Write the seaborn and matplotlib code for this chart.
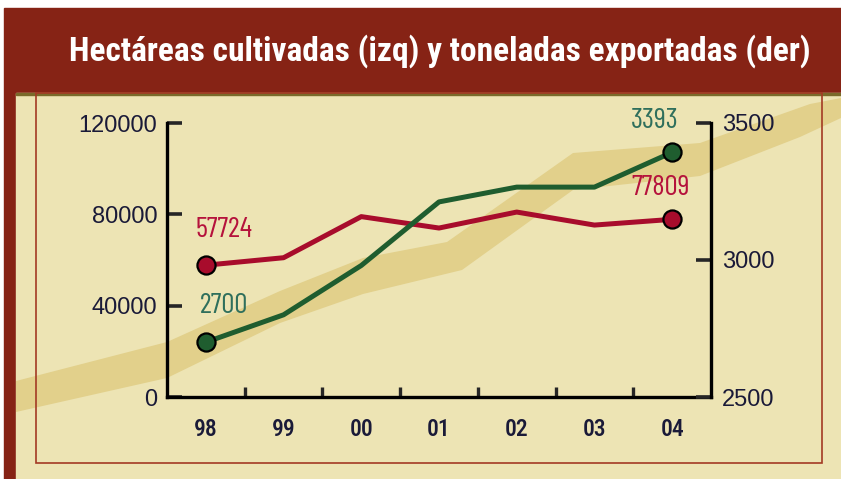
import numpy as np
import pandas as pd
import matplotlib
matplotlib.use("Agg")
import matplotlib.pyplot as plt
import seaborn as sns
from matplotlib.patches import Rectangle, Polygon

# ---------------------------------------------------------------------------
# Data
# ---------------------------------------------------------------------------
years = ["98", "99", "00", "01", "02", "03", "04"]
hectareas = [57724, 61000, 79000, 74000, 81000, 75300, 77809]   # left axis
toneladas = [2700, 2800, 2980, 3212, 3266, 3266, 3393]          # right axis

left_ticks = [0, 40000, 80000, 120000]
right_ticks = [2500, 3000, 3500]

title = "Hectáreas cultivadas (izq) y toneladas exportadas (der)"

RED = "#a80c2c"
GREEN = "#1f5d2f"
RED_TXT = "#b5123c"
GREEN_TXT = "#2f6f5c"
NAVY = "#1a1a38"
BAND = "#862315"
BEIGE = "#ede4b4"
STRIPE = "#e2d08b"

COND = ["Roboto Condensed", "DejaVu Sans"]
XCOND = ["Barlow Condensed", "Roboto Condensed", "DejaVu Sans"]

df = pd.DataFrame({"pos": np.arange(len(years)), "hect": hectareas, "ton": toneladas})

sns.set_theme(style="white")
plt.rcParams["font.family"] = ["Liberation Sans", "DejaVu Sans"]

W, H = 841, 479
fig = plt.figure(figsize=(W / 100, H / 100), dpi=100)
fig.patch.set_facecolor("white")


def px(x, y):
    """pixel coords (top-left origin) -> figure fraction"""
    return x / W, 1 - y / H


# ---------------------------------------------------------------------------
# Decorative frame
# ---------------------------------------------------------------------------
fig.patches.append(Rectangle(px(4, 479), (W - 4) / W, (479 - 8) / H,
                             transform=fig.transFigure, color=BAND, zorder=-5))
fig.patches.append(Rectangle(px(16, 479), (W - 16) / W, (479 - 93) / H,
                             transform=fig.transFigure, color=BEIGE, zorder=-4))
fig.patches.append(Rectangle(px(16, 94.5), (W - 16) / W, 1.5 / H,
                             transform=fig.transFigure, color="#7a6a2a", zorder=-4))

# wide diagonal stripe behind the plot
top_edge = [(16, 381), (167, 342), (280, 291), (363, 258), (447, 242),
            (573, 153), (700, 143), (810, 104), (841, 98)]
bot_edge = [(841, 118), (800, 137), (700, 176), (573, 190), (462, 270),
            (363, 294), (280, 323), (167, 378), (16, 412)]
stripe = Polygon([px(x, y) for x, y in top_edge + bot_edge], closed=True,
                 transform=fig.transFigure, color=STRIPE, zorder=-3, lw=0)
fig.patches.append(stripe)

fig.patches.append(Rectangle(px(36, 463), (822 - 36) / W, (463 - 93) / H,
                             transform=fig.transFigure, fill=False,
                             edgecolor="#a33a24", lw=1.2, zorder=-2))

fig.text(440 / W, 1 - 51 / H, title, color="white", ha="center", va="center",
         fontsize=24, fontweight="bold", family=COND)

# ---------------------------------------------------------------------------
# Axes
# ---------------------------------------------------------------------------
x0, y0 = px(167, 397)
x1, y1 = px(711, 123)
ax = fig.add_axes([x0, y0, x1 - x0, y1 - y0])
ax.patch.set_visible(False)
ax2 = ax.twinx()
ax2.patch.set_visible(False)

sns.lineplot(data=df, x="pos", y="hect", ax=ax, color=RED, lw=3.6, zorder=3)
sns.lineplot(data=df, x="pos", y="ton", ax=ax2, color=GREEN, lw=3.6, zorder=3)

ends = df.iloc[[0, -1]]
sns.scatterplot(data=ends, x="pos", y="hect", ax=ax, color=RED, s=170,
                edgecolor="black", linewidth=1.6, zorder=4)
sns.scatterplot(data=ends, x="pos", y="ton", ax=ax2, color=GREEN, s=170,
                edgecolor="black", linewidth=1.6, zorder=4)

ax.set_xlim(-0.5, len(years) - 0.5)
ax.set_ylim(left_ticks[0], left_ticks[-1])
ax2.set_ylim(right_ticks[0], right_ticks[-1])

ax.set_yticks(left_ticks)
ax2.set_yticks(right_ticks)
ax.set_xticks(df["pos"])
ax.set_xticklabels(years)
ax.set_xticks(df["pos"][:-1] + 0.5, minor=True)

for a in (ax, ax2):
    a.set_xlabel("")
    a.set_ylabel("")
    a.grid(False)
    for s in a.spines.values():
        s.set_color("black")
        s.set_linewidth(2.4)
    a.spines["top"].set_visible(False)

ax.spines["right"].set_visible(False)
ax2.spines["left"].set_visible(False)
ax2.spines["bottom"].set_visible(False)

ax.tick_params(axis="y", direction="in", length=11, width=2.6, pad=7,
               labelsize=17, labelcolor=NAVY, left=True)
ax2.tick_params(axis="y", direction="in", length=11, width=2.6, pad=8,
                labelsize=17, labelcolor=NAVY, right=True)
ax.tick_params(axis="x", which="major", length=0, pad=15, labelsize=17,
               labelcolor=NAVY)
ax.tick_params(axis="x", which="minor", direction="in", length=7, width=2.4,
               bottom=True)
for lab in ax.get_xticklabels():
    lab.set_family(COND)
    lab.set_fontweight("medium")

# value labels at the end points
lab_font = dict(fontsize=21, family=XCOND, ha="center", va="bottom")
ax.annotate(f"{hectareas[0]}", (0, hectareas[0]), xytext=(18, 22),
            textcoords="offset pixels", color=RED_TXT, **lab_font)
ax.annotate(f"{hectareas[-1]}", (6, hectareas[-1]), xytext=(-12, 18),
            textcoords="offset pixels", color=RED_TXT, **lab_font)
ax2.annotate(f"{toneladas[0]}", (0, toneladas[0]), xytext=(18, 23),
             textcoords="offset pixels", color=GREEN_TXT, **lab_font)
ax2.annotate(f"{toneladas[-1]}", (6, toneladas[-1]), xytext=(-17, 18),
             textcoords="offset pixels", color=GREEN_TXT, **lab_font)

fig.savefig("out.png", dpi=100)
